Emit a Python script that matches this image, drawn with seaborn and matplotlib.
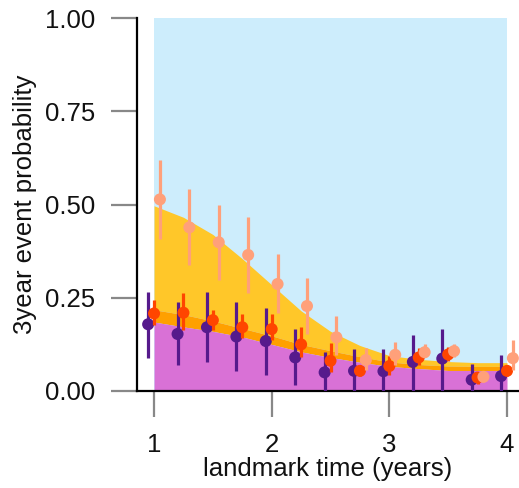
import numpy as np
import pandas as pd
import matplotlib
matplotlib.use("Agg")
import matplotlib.pyplot as plt
import seaborn as sns

# Landmark times (years)
landmark = [1.0, 1.25, 1.5, 1.75, 2.0, 2.25, 2.5, 2.75, 3.0, 3.25, 3.5, 3.75, 4.0]

# Model-based stacked probabilities (upper edge of each band)
band_low = [0.185, 0.172, 0.160, 0.145, 0.125, 0.105, 0.090, 0.077, 0.066, 0.060, 0.055, 0.055, 0.055]
band_mid = [0.218, 0.205, 0.188, 0.168, 0.148, 0.125, 0.108, 0.092, 0.078, 0.071, 0.067, 0.066, 0.066]
band_high = [0.497, 0.466, 0.420, 0.355, 0.285, 0.215, 0.160, 0.122, 0.095, 0.085, 0.079, 0.076, 0.076]

# Observed estimates with intervals, group A
a_est = [0.179, 0.153, 0.171, 0.146, 0.134, 0.090, 0.050, 0.054, 0.053, 0.078, 0.087, 0.030, 0.040]
a_lo = [0.089, 0.069, 0.077, 0.054, 0.043, 0.016, 0.000, 0.000, 0.000, 0.000, 0.000, 0.000, 0.000]
a_hi = [0.265, 0.239, 0.266, 0.239, 0.223, 0.165, 0.104, 0.112, 0.112, 0.150, 0.167, 0.072, 0.097]

# group B
b_est = [0.208, 0.210, 0.190, 0.171, 0.166, 0.125, 0.081, 0.054, 0.067, 0.090, 0.098, 0.036, 0.054]
b_lo = [0.177, 0.164, 0.164, 0.141, 0.137, 0.092, 0.052, 0.040, 0.043, 0.070, 0.080, 0.020, 0.040]
b_hi = [0.244, 0.264, 0.217, 0.206, 0.206, 0.172, 0.130, 0.070, 0.094, 0.116, 0.118, 0.050, 0.070]

# group C
c_est = [0.514, 0.439, 0.399, 0.365, 0.287, 0.228, 0.144, 0.083, 0.097, 0.104, 0.107, 0.038, 0.088]
c_lo = [0.407, 0.338, 0.299, 0.262, 0.208, 0.153, 0.097, 0.056, 0.070, 0.090, 0.090, 0.025, 0.056]
c_hi = [0.621, 0.541, 0.499, 0.466, 0.367, 0.304, 0.201, 0.114, 0.132, 0.125, 0.125, 0.050, 0.137]

y_ticks = [0.00, 0.25, 0.50, 0.75, 1.00]
x_ticks = [1, 2, 3, 4]

groups = ["A", "B", "C"]
colors = {"A": "#561A8C", "B": "#FF4500", "C": "#FFA07A"}
offsets = {"A": -0.05, "B": 0.0, "C": 0.05}

rows = []
for g, est, lo, hi in [("A", a_est, a_lo, a_hi), ("B", b_est, b_lo, b_hi), ("C", c_est, c_lo, c_hi)]:
    for t, e, l, h in zip(landmark, est, lo, hi):
        rows.append({"group": g, "time": t + offsets[g], "est": e, "lo": l, "hi": h})
df = pd.DataFrame(rows)

sns.set_style("white")
plt.rcParams["font.family"] = ["Liberation Sans", "DejaVu Sans"]

fig = plt.figure(figsize=(5.19, 4.88), dpi=100)
ax = fig.add_axes([0.264, 0.1988, 0.736, 0.7637])

t = np.array(landmark)
ax.fill_between([t[0], t[-1]], 0, 1, color="#CDEDFC", lw=0, zorder=0)
ax.fill_between(t, band_mid, band_high, color="#FFC729", lw=0, zorder=1)
ax.fill_between(t, band_low, band_mid, color="#FFA000", lw=0, zorder=1)
ax.fill_between(t, 0, band_low, color="#D971D6", lw=0, zorder=1)

z = 3
for g in groups:
    sub = df[df["group"] == g]
    ax.vlines(sub["time"], sub["lo"], sub["hi"], color=colors[g], lw=2.3, zorder=z)
    sns.scatterplot(data=sub, x="time", y="est", color=colors[g], s=75,
                    edgecolor="none", ax=ax, zorder=z + 1, legend=False)
    z += 2

ax.set_xlim(0.8554, 4.102)
ax.set_ylim(0, 1)
ax.set_xticks(x_ticks)
ax.set_xticklabels([str(v) for v in x_ticks])
ax.set_yticks(y_ticks)
ax.set_yticklabels([f"{v:.2f}" for v in y_ticks])

for side in ["top", "right"]:
    ax.spines[side].set_visible(False)
for side in ["left", "bottom"]:
    ax.spines[side].set_color("black")
    ax.spines[side].set_linewidth(1.6)

ax.tick_params(axis="both", which="major", direction="out", length=19, width=1.6,
               color="#888888", labelsize=18.5, labelcolor="#111111", pad=11,
               bottom=True, left=True)
ax.set_xlabel("landmark time (years)", fontsize=18.5, labelpad=0, color="#111111")
ax.set_ylabel("3year event probability", fontsize=18.5, labelpad=6, color="#111111")

fig.savefig("out.png", dpi=100)
